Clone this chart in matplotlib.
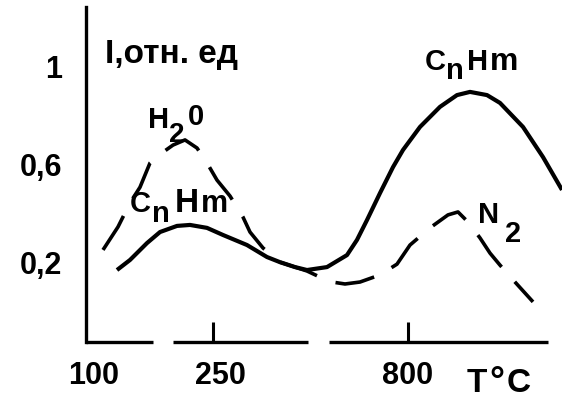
import matplotlib
matplotlib.use("Agg")
import matplotlib.pyplot as plt
from matplotlib.transforms import offset_copy

plt.rcParams.update({
    "font.family": ["Liberation Sans", "DejaVu Sans"],
    "font.weight": "bold",
})

# ---- data (schematic x position, relative intensity) ----
cnhm_x = [31, 44, 61, 74, 91, 104, 121, 137, 161, 181, 194, 209, 221, 241, 261,
          271, 281, 294, 307, 317, 334, 354, 371, 384, 401, 414, 437, 457, 476]
cnhm_y = [0.170, 0.211, 0.280, 0.325, 0.350, 0.354, 0.342, 0.313, 0.272, 0.223,
          0.202, 0.182, 0.170, 0.182, 0.231, 0.293, 0.374, 0.484, 0.590, 0.660,
          0.754, 0.836, 0.884, 0.897, 0.884, 0.852, 0.754, 0.631, 0.497]

gas_x = [17, 32, 44, 54, 64, 76, 87, 99, 111, 121, 131, 144, 157, 164, 177, 194,
         209, 221, 234, 246, 259, 274, 294, 311, 324, 344, 362, 372, 382, 394,
         404, 414, 429, 447]
gas_y = [0.252, 0.346, 0.444, 0.508, 0.607, 0.648, 0.680, 0.701, 0.668, 0.607,
         0.537, 0.472, 0.386, 0.325, 0.260, 0.202, 0.182, 0.166, 0.141, 0.121,
         0.113, 0.121, 0.150, 0.194, 0.272, 0.342, 0.395, 0.407, 0.366, 0.301,
         0.239, 0.190, 0.121, 0.040]

xtick_marks = [127, 322]
xlabel_pos = [8, 134, 322]
xlabel_text = ["100", "250", "800"]
ytick_pos = [0.2, 0.6, 1.0]
ytick_labels = ["0,2", "0,6", "1"]
x_axis_segments = [(0, 67), (87, 222), (243, 462)]

FS = 22
W, H = 562, 401
fig = plt.figure(figsize=(W / 100, H / 100), dpi=100)
ax = fig.add_axes([86 / W, (H - 342) / H, 476 / W, 342 / H])
ymin, ymax = -0.1238, 1.2721
ax.set_xlim(0, 476)
ax.set_ylim(ymin, ymax)

for s in ["top", "right", "bottom"]:
    ax.spines[s].set_visible(False)
ax.spines["left"].set_linewidth(2.4)
ax.spines["left"].set_bounds(ymin, 1.2435)

for a, b in x_axis_segments:
    ax.hlines(ymin, a, b, color="black", lw=2.4, clip_on=False, capstyle="butt")

# tick marks (major, no labels) and tick labels (minor, no marks)
ax.xaxis.remove_overlapping_locs = False
ax.set_xticks(xtick_marks)
ax.set_xticklabels([""] * len(xtick_marks))
ax.set_xticks(xlabel_pos, minor=True)
ax.set_xticklabels(xlabel_text, minor=True)
ax.tick_params(axis="x", which="major", direction="in", length=14.5, width=2.2)
ax.tick_params(axis="x", which="minor", direction="in", length=0, pad=14,
               labelsize=FS)
ax.set_yticks(ytick_pos)
ax.set_yticklabels(ytick_labels)
ax.tick_params(axis="y", direction="in", length=0, pad=17, labelsize=FS)

ax.plot(cnhm_x, cnhm_y, color="black", lw=3.0, solid_capstyle="butt",
        solid_joinstyle="round")
ax.plot(gas_x, gas_y, color="black", lw=2.6, linestyle=(0, (11.0, 5.5)),
        dash_capstyle="butt")

renderer = fig.canvas.get_renderer()


def piece_label(x, y, pieces):
    """pieces: (text, fontsize, vertical shift px, gap before px)"""
    dx = 0.0
    for s, fs, dy, gap in pieces:
        dx += gap
        tr = offset_copy(ax.transData, fig=fig, x=dx, y=dy, units="dots")
        t = ax.text(x, y, s, fontsize=fs, ha="left", va="baseline",
                    transform=tr, clip_on=False)
        dx += t.get_window_extent(renderer=renderer).width


ax.text(19, 1.015, "I,отн. ед", fontsize=24, ha="left", va="baseline")
piece_label(62, 0.750, [("H", 21, 0, 0), ("2", 20, -14, 0), ("0", 21, 3, 3)])
piece_label(44, 0.407, [("C", 21, 0, 0), ("n", 21, -10, 1), ("H", 24, 0, 5),
                        ("m", 22, 0, 2)])
piece_label(339, 0.986, [("C", 21, 0, 0), ("n", 21, -9, 0), ("H", 21, 0, 3),
                         ("m", 23, 0, 2)])
piece_label(392, 0.361, [("N", 21, 0, 0), ("2", 21, -19, 6)])
piece_label(381, -0.326, [("T", 24, 0, 0), ("°", 27, -1, 2), ("C", 24, 0, 2)])

fig.savefig("out.png", dpi=100)
